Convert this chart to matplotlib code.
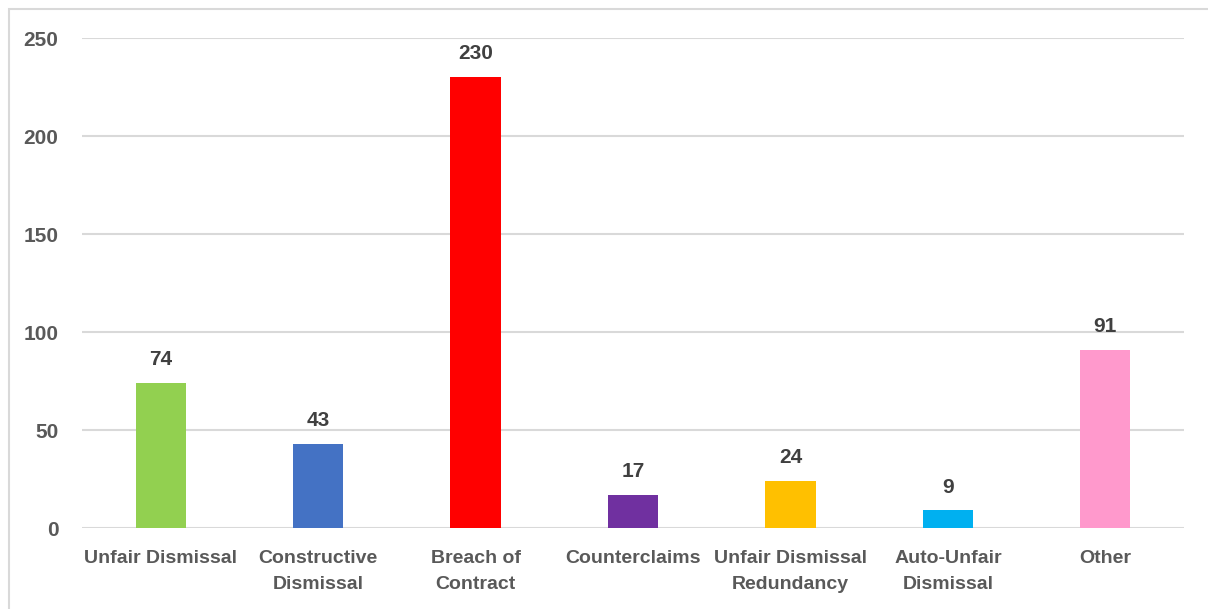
import matplotlib.pyplot as plt
from matplotlib.patches import Rectangle

categories = ["Unfair Dismissal", "Constructive\nDismissal", "Breach of\nContract",
              "Counterclaims", "Unfair Dismissal\nRedundancy", "Auto-Unfair\nDismissal", "Other"]
counts = [74, 43, 230, 17, 24, 9, 91]
colors = ["#92D050", "#4472C4", "#FF0000", "#7030A0", "#FFC000", "#00B0F0", "#FF99CC"]
yticks = [0, 50, 100, 150, 200, 250]

plt.rcParams['font.family'] = ['Liberation Sans Narrow', 'Liberation Sans', 'DejaVu Sans']
plt.rcParams['font.weight'] = 'bold'

fig = plt.figure(figsize=(12.08, 6.09), dpi=100)
ax = fig.add_axes([82 / 1208, 81 / 609, 1102 / 1208, 490 / 609])

# chart frame (light grey, open on the right)
fig.patches.append(Rectangle((9 / 1208, -0.1), 1.2, 600 / 609 + 0.1,
                             transform=fig.transFigure, fill=False,
                             edgecolor="#D9D9D9", linewidth=1.5, zorder=0))

x = range(len(categories))
bars = ax.bar(x, counts, width=0.32, color=colors, zorder=3)

for b, v in zip(bars, counts):
    ax.text(b.get_x() + b.get_width() / 2, v + 7, str(v), ha="center", va="bottom",
            fontsize=15, fontweight="bold", color="#404040")

ax.set_xlim(-0.5, len(categories) - 0.5)
ax.set_ylim(0, 250)
ax.set_yticks(yticks)
ax.yaxis.grid(True, color="#D9D9D9", linewidth=1.5)
ax.set_axisbelow(True)
for s in ax.spines.values():
    s.set_visible(False)
ax.tick_params(length=0)
ax.tick_params(axis="y", pad=17, labelsize=15, labelcolor="#595959")
ax.tick_params(axis="x", pad=16, labelsize=14, labelcolor="#595959")
ax.set_xticks(list(x))
ax.set_xticklabels(categories, fontweight="bold", linespacing=1.7)
for t in ax.get_yticklabels():
    t.set_fontweight("bold")

fig.savefig("out.png", dpi=100)
